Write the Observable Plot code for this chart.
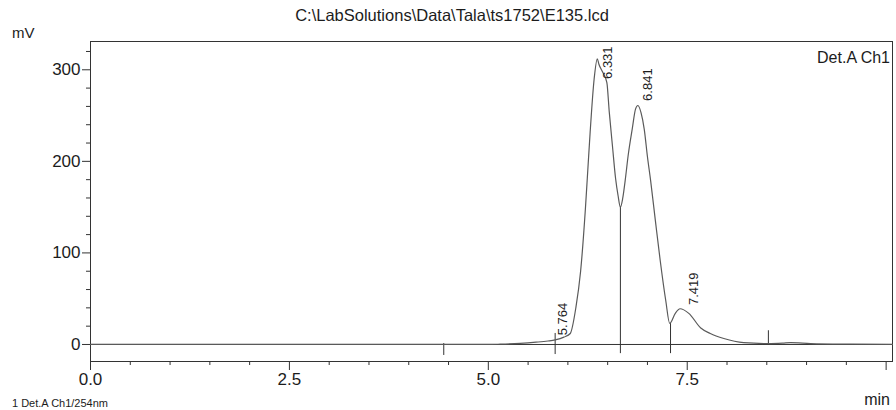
<!DOCTYPE html>
<html>
<head>
<meta charset="utf-8">
<script src="https://cdn.jsdelivr.net/npm/d3@7"></script>
<script src="https://cdn.jsdelivr.net/npm/@observablehq/plot@0.6"></script>
<style>
  html, body { margin: 0; padding: 0; background: #fff; }
  svg { display: block; }
</style>
</head>
<body>
<div id="chart"></div>
<script>
// Chromatogram trace (time in min, signal in mV)
const times = [0, 1, 2, 3, 4, 4.5, 5.0, 5.15, 5.4, 5.6, 5.75, 5.84, 5.95, 6.03, 6.10, 6.16, 6.22, 6.25, 6.28, 6.33, 6.37, 6.39, 6.44, 6.49, 6.52, 6.56, 6.60, 6.63, 6.66, 6.69, 6.72, 6.76, 6.81, 6.85, 6.88, 6.92, 6.96, 7.00, 7.04, 7.10, 7.16, 7.23, 7.28, 7.35, 7.41, 7.52, 7.67, 7.79, 7.96, 8.21, 8.52, 8.70, 8.80, 9.05, 9.55, 10.08];
const signal = [0, 0, 0, 0, 0, 0, 0, 0.3, 1.2, 2.5, 3.8, 5, 8, 12, 40, 80, 148, 190, 232, 290, 312, 306, 297, 286, 254, 217, 181, 163, 150, 160, 179, 208, 236, 257, 261, 253, 235, 205, 179, 135, 92, 48, 23, 34, 39, 34, 18, 12, 6.5, 2, 1, 1.5, 2, 1, 0.3, 0];

// Peak retention-time labels
const peakTimes = [5.764, 6.331, 6.841, 7.419];
const peakLabels = ["5.764", "6.331", "6.841", "7.419"];
const peakLabelY = [10, 290, 266, 43];

// Integration boundary marks
const markTimes = [4.44, 5.84, 6.66, 7.29, 8.52];
const markTop = [1, 12, 150, 23, 15];
const markBottom = [-12, -11, -10, -10, -1];

// Axis ticks
const xMajorTicks = [0, 2.5, 5, 7.5, 10];
const xMinorTicks = [0.5, 1, 1.5, 2, 3, 3.5, 4, 4.5, 5.5, 6, 6.5, 7, 8, 8.5, 9, 9.5];
const yMajorTicks = [0, 100, 200, 300];
const yMinorTicks = [20, 40, 60, 80, 120, 140, 160, 180, 220, 240, 260, 280, 320];

const titleText = "C:\\LabSolutions\\Data\\Tala\\ts1752\\E135.lcd";
const detectorText = "Det.A Ch1";
const yUnit = "mV";
const xUnit = "min";
const footText = "1 Det.A Ch1/254nm";

const trace = times.map((t, i) => ({t, v: signal[i]}));
const peaks = peakTimes.map((t, i) => ({t, y: peakLabelY[i], label: peakLabels[i]}));
const marks = markTimes.map((t, i) => ({t, y1: markTop[i], y2: markBottom[i]}));

const font = "'Liberation Sans', Arial, sans-serif";
const ink = "#1c1c1c";

const chart = Plot.plot({
  width: 896,
  height: 410,
  marginLeft: 90,
  marginRight: 4,
  marginTop: 41,
  marginBottom: 49,
  x: {domain: [0, 10.08], label: null},
  y: {domain: [-18.6, 330.9], label: null},
  style: {fontFamily: font, color: ink, background: "white", overflow: "visible"},
  marks: [
    Plot.frame({stroke: "#333", strokeWidth: 1}),
    Plot.ruleX([0], {y1: -18.6, y2: -26.5, stroke: "#333"}),
    Plot.ruleY([0], {stroke: "#333", strokeWidth: 1}),
    Plot.axisX({ticks: xMajorTicks, tickSize: 9, tickPadding: 2, fontSize: 17, label: null,
      tickFormat: d => d === 10 ? "" : d.toFixed(1), stroke: "#333"}),
    Plot.axisX({ticks: xMinorTicks, tickSize: 4, text: null, label: null, stroke: "#333"}),
    Plot.axisY({ticks: yMajorTicks, tickSize: 8, tickPadding: 2, fontSize: 17, label: null,
      tickFormat: d => String(d), stroke: "#333"}),
    Plot.axisY({ticks: yMinorTicks, tickSize: 4, text: null, label: null, stroke: "#333"}),
    Plot.ruleX(marks, {x: "t", y1: "y1", y2: "y2", stroke: "#333", strokeWidth: 1}),
    Plot.line(trace, {x: "t", y: "v", stroke: "#5a5a5a", strokeWidth: 1.2, curve: "monotone-x"}),
    Plot.text(peaks, {x: "t", y: "y", text: "label", rotate: -90, textAnchor: "start",
      dx: 13.5, fontSize: 13, fill: ink}),
  ]
});

document.getElementById("chart").appendChild(chart);

const svg = d3.select(chart);
function addText(x, y, size, anchor, str) {
  svg.append("text").attr("x", x).attr("y", y).attr("text-anchor", anchor)
    .attr("font-size", size).attr("fill", ink).attr("font-family", font).text(str);
}
addText(452, 21, 16.5, "middle", titleText);
addText(12, 38, 15, "start", yUnit);
addText(890, 405, 16, "end", xUnit);
addText(890, 63, 16, "end", detectorText);
addText(12, 407, 11, "start", footText);
</script>
</body>
</html>
